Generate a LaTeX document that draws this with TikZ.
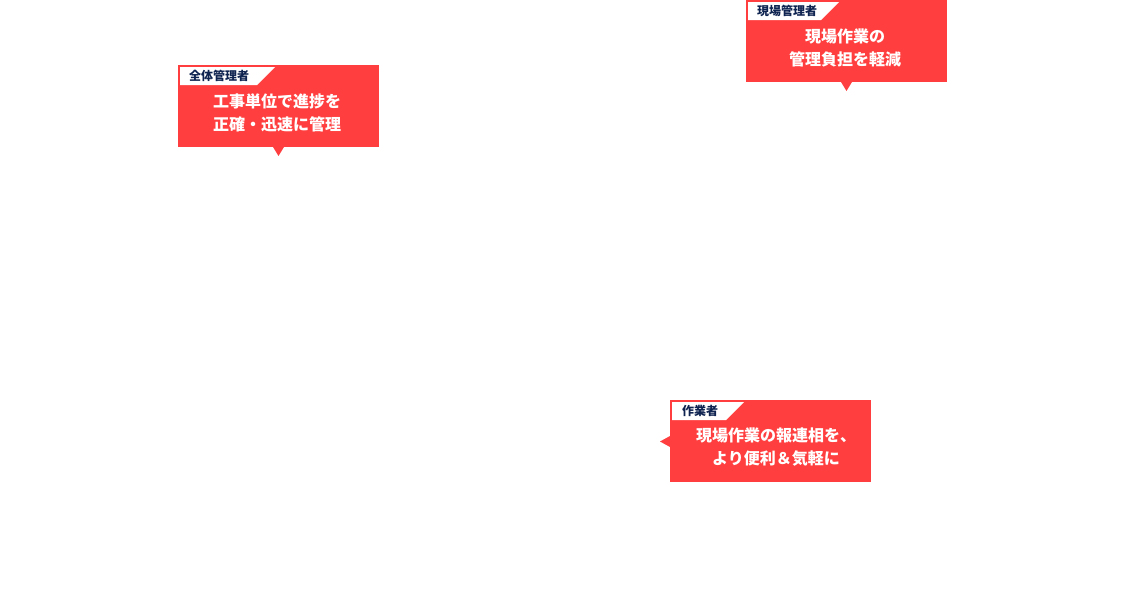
\documentclass[tikz,border=0pt]{standalone}
\usepackage{fontspec}
\usepackage{xcolor}
\usepackage{tikz}
\newfontfamily\cjk{Noto Sans CJK JP}
\definecolor{calloutred}{HTML}{FF3F3F}
\definecolor{tagnavy}{HTML}{0F2350}
\tikzset{
  calloutbody/.style={fill=calloutred,draw=none},
  calloutmsg/.style={text=white,align=center,inner sep=0pt,font=\cjk\bfseries\fontsize{16}{23}\selectfont},
  calloutrole/.style={text=tagnavy,anchor=west,inner sep=0pt,font=\cjk\bfseries\fontsize{12}{12}\selectfont}
}
\begin{document}
\begin{tikzpicture}[x=1pt,y=-1pt]
\useasboundingbox (0,0) rectangle (1144,600);
% all manager
\fill[calloutbody] (178,65) rectangle (379,147);
\fill[calloutbody] (273,147) -- (284,147) -- (278.5,156) -- cycle;
\fill[white] (180,67) -- (275,67) -- (257,85) -- (180,85) -- cycle;
\node[calloutrole] (allrole) at (189,76) {全体管理者};
\node[calloutmsg] (allmsg) at (277,112.5) {工事単位で進捗を\\正確・迅速に管理};
% site manager
\fill[calloutbody] (746,0) rectangle (947,82);
\fill[calloutbody] (841,82) -- (852,82) -- (846.5,91) -- cycle;
\fill[white] (748,2) -- (839,2) -- (821,20) -- (748,20) -- cycle;
\node[calloutrole] (siterole) at (757,11) {現場管理者};
\node[calloutmsg] (sitemsg) at (845,47.5) {現場作業の\\管理負担を軽減};
% worker
\fill[calloutbody] (670,400) rectangle (871,482);
\fill[calloutbody] (670,436) -- (670,447) -- (660,441.5) -- cycle;
\fill[white] (672,402) -- (744,402) -- (726,420) -- (672,420) -- cycle;
\node[calloutrole] (workrole) at (682,411) {作業者};
\node[calloutmsg] (workmsg) at (776,447.5) {現場作業の報連相を、\\より便利＆気軽に};
\end{tikzpicture}
\end{document}
